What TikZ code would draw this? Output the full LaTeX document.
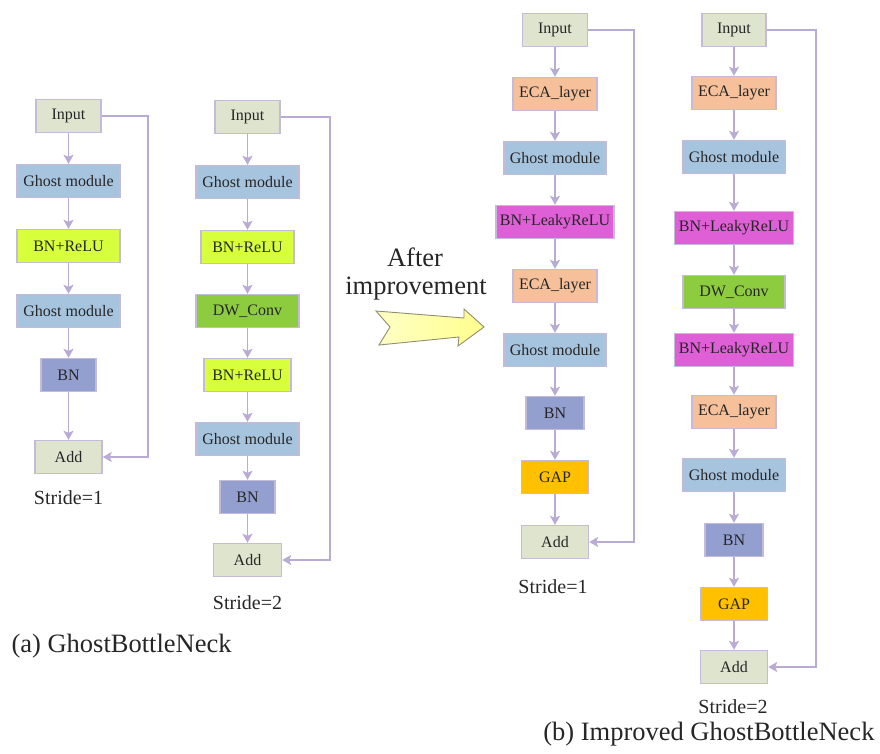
\documentclass[tikz,border=0pt]{standalone}
\usepackage{fontspec}
\setmainfont{Liberation Serif}
\usetikzlibrary{arrows.meta}
\definecolor{cIO}{HTML}{DFE4CF}
\definecolor{cGhost}{HTML}{A7C4DF}
\definecolor{cRelu}{HTML}{D8FF3C}
\definecolor{cDW}{HTML}{8DCB3F}
\definecolor{cBN}{HTML}{939FCF}
\definecolor{cECA}{HTML}{F6C09A}
\definecolor{cLeaky}{HTML}{DE5FD6}
\definecolor{cGAP}{HTML}{FFC000}
\definecolor{cEdge}{HTML}{C6BADB}
\definecolor{cLine}{HTML}{B9ABD5}
\definecolor{cArrowEdge}{HTML}{8E8E70}
\begin{document}
\begin{tikzpicture}[x=1pt,y=-1pt,
  blk/.style={draw=cEdge, line width=1.4pt, minimum height=33pt, inner sep=0pt,
    font=\fontsize{16}{16}\selectfont, text=black!85},
  io/.style={blk, fill=cIO, minimum width=65pt},
  ghost/.style={blk, fill=cGhost, minimum width=103pt},
  relu/.style={blk, fill=cRelu},
  dw/.style={blk, fill=cDW, minimum width=103pt},
  bn/.style={blk, fill=cBN, minimum width=57pt},
  eca/.style={blk, fill=cECA, minimum width=84pt},
  leaky/.style={blk, fill=cLeaky, minimum width=119pt},
  gap/.style={blk, fill=cGAP, minimum width=67pt},
  flow/.style={draw=cLine, line width=1.8pt, -{Stealth[length=9pt,width=10pt,inset=2pt]}},
  stride/.style={font=\fontsize{20}{20}\selectfont, text=black!85},
  caption/.style={font=\fontsize{26.5}{26.5}\selectfont, text=black!85}]
\useasboundingbox (0,0) rectangle (880,753);

% ---------- (a) GhostBottleNeck, stride 1 ----------
\node[io] (a1) at (68.5,116) {Input};
\node[ghost] (a2) at (68.5,181) {Ghost module};
\node[relu, minimum width=103pt] (a3) at (68.5,246) {BN+ReLU};
\node[ghost] (a4) at (68.5,311) {Ghost module};
\node[bn, minimum width=55pt] (a5) at (68.5,375) {BN};
\node[io, minimum width=67pt] (a6) at (68.5,457) {Add};
\node[stride] (sa) at (68.5,498) {Stride=1};
\coordinate (fa) at (148,0);
\foreach \u/\v in {a1/a2,a2/a3,a3/a4,a4/a5,a5/a6} \draw[flow] (\u) -- (\v);
\draw[flow] (a1.east) -- (a1.east -| fa) |- (a6.east);

% ---------- (a) GhostBottleNeck, stride 2 ----------
\node[io] (b1) at (247.5,117) {Input};
\node[ghost] (b2) at (247.5,182) {Ghost module};
\node[relu, minimum width=93pt] (b3) at (247.5,247) {BN+ReLU};
\node[dw] (b4) at (247.5,311) {DW\_Conv};
\node[relu, minimum width=87pt] (b5) at (247.5,375) {BN+ReLU};
\node[ghost] (b6) at (247.5,439) {Ghost module};
\node[bn, minimum width=55pt] (b7) at (247.5,497) {BN};
\node[io, minimum width=68pt] (b8) at (247.5,560) {Add};
\node[stride] (sb) at (247.5,603) {Stride=2};
\coordinate (fb) at (330,0);
\foreach \u/\v in {b1/b2,b2/b3,b3/b4,b4/b5,b5/b6,b6/b7,b7/b8} \draw[flow] (\u) -- (\v);
\draw[flow] (b1.east) -- (b1.east -| fb) |- (b8.east);

\node[caption, anchor=west] (capa) at (8,646) {(a) GhostBottleNeck};

% ---------- transition arrow ----------
\node[caption] (after) at (415,257) {After};
\node[caption] (impr) at (416,289) {improvement};
\draw[draw=cArrowEdge, line width=0.9pt, left color=yellow!22, right color=yellow!45]
  (376,311) -- (464,318) -- (464,309) -- (484,327) -- (458,346) -- (459,337)
  -- (379,345) -- (390,327) -- cycle;

% ---------- (b) Improved GhostBottleNeck, stride 1 ----------
\node[io] (c1) at (555,30) {Input};
\node[eca] (c2) at (555,94) {ECA\_layer};
\node[ghost, minimum width=102pt] (c3) at (555,158) {Ghost module};
\node[leaky, minimum width=118pt] (c4) at (555,222) {BN+LeakyReLU};
\node[eca] (c5) at (555,286) {ECA\_layer};
\node[ghost, minimum width=102pt] (c6) at (555,350) {Ghost module};
\node[bn, minimum width=58pt] (c7) at (555,413) {BN};
\node[gap] (c8) at (555,477) {GAP};
\node[io, minimum width=67pt] (c9) at (555,542) {Add};
\node[stride] (sc) at (553,587) {Stride=1};
\coordinate (fc) at (634,0);
\foreach \u/\v in {c1/c2,c2/c3,c3/c4,c4/c5,c5/c6,c6/c7,c7/c8,c8/c9} \draw[flow] (\u) -- (\v);
\draw[flow] (c1.east) -- (c1.east -| fc) |- (c9.east);

% ---------- (b) Improved GhostBottleNeck, stride 2 ----------
\node[io, minimum width=64pt] (d1) at (734,30) {Input};
\node[eca] (d2) at (734,93) {ECA\_layer};
\node[ghost] (d3) at (734,157) {Ghost module};
\node[leaky] (d4) at (734,228) {BN+LeakyReLU};
\node[dw, minimum width=102pt] (d5) at (734,292) {DW\_Conv};
\node[leaky] (d6) at (734,350) {BN+LeakyReLU};
\node[eca] (d7) at (734,412) {ECA\_layer};
\node[ghost] (d8) at (734,475) {Ghost module};
\node[bn, minimum width=58pt] (d9) at (734,540) {BN};
\node[gap] (d10) at (734,604) {GAP};
\node[io, minimum width=67pt] (d11) at (734,667) {Add};
\node[stride] (sd) at (733,707) {Stride=2};
\coordinate (fd) at (816,0);
\foreach \u/\v in {d1/d2,d2/d3,d3/d4,d4/d5,d5/d6,d6/d7,d7/d8,d8/d9,d9/d10,d10/d11} \draw[flow] (\u) -- (\v);
\draw[flow] (d1.east) -- (d1.east -| fd) |- (d11.east);

\node[caption, anchor=east] (capb) at (878,734) {(b) Improved GhostBottleNeck};
\end{tikzpicture}
\end{document}
